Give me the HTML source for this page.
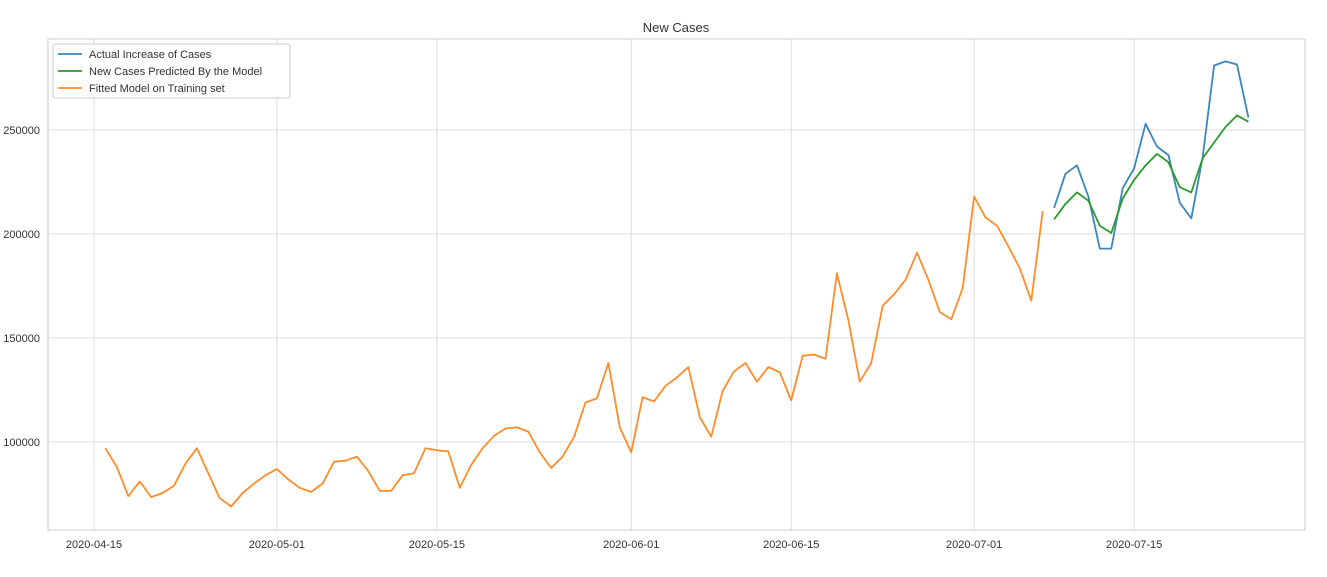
<!DOCTYPE html>
<html><head><meta charset="utf-8"><style>
body{margin:0;background:#fff;font-family:"Liberation Sans",sans-serif;}
svg text{font-family:"Liberation Sans",sans-serif;fill:#333;}
</style></head><body>
<svg id="chart" width="1327" height="572"></svg>
<script>
const xTickLabels=["2020-04-15","2020-05-01","2020-05-15","2020-06-01","2020-06-15","2020-07-01","2020-07-15"];
const xTickDays=[0,16,30,47,61,77,91];
const yTicks=[100000,150000,200000,250000];
const fittedStartDay=1;
const fittedValues=[97,88,74,81,73.5,75.5,79,89.5,97,85,73,69,75.5,80,84,87,82,78,76,80,90.5,91,93,86,76.5,76.5,84,85,97,96,95.5,78,89,97,103,106.5,107,105,95,87.5,93,102.5,119,121,138,107,95,121.5,119.5,127,131,136,112,102.5,124.5,134,138,129,136,133.5,120,141.5,142,140,181,158.5,129,138,165.5,171,178,191,178,162.5,159,174,218,208,204,194,183.5,168,211];
const testStartDay=84;
const actualValues=[212.5,229,233,218,193,193,222,231.5,253,242,238,215,207.5,237,281,283,281.5,256];
const predictedValues=[207,214.5,220,216,204,200.5,217,226,233,238.5,234.5,222.5,220,236.5,244,251.5,257,254];
const svg=document.getElementById('chart');
const NS='http://www.svgns.org';
const L=48,R=1305,T=39,B=530;
const xs=d=>94+d*11.43;
const ys=v=>442-(v-100000)*104/50000;
function el(t,a){const e=document.createElementNS('http://www.w3.org/2000/svg',t);for(const k in a)e.setAttribute(k,a[k]);svg.appendChild(e);return e;}
let e=el('text',{x:676,y:32,'text-anchor':'middle','font-size':13});e.textContent='New Cases';


xTickDays.forEach((d,i)=>{
 let g=el('line',{x1:xs(d),x2:xs(d),y1:T,y2:B,stroke:'#dcdcdc','stroke-width':1});
 
 
 let t=el('text',{x:xs(d),y:548,'text-anchor':'middle','font-size':11});t.textContent=xTickLabels[i];
 
 
});
yTicks.forEach(v=>{
 let g=el('line',{x1:L,x2:R,y1:ys(v),y2:ys(v),stroke:'#dcdcdc','stroke-width':1});
 
 
 let t=el('text',{x:40,y:ys(v)+4,'text-anchor':'end','font-size':11});t.textContent=v;
 
 
});
let fr=el('rect',{x:L,y:T,width:R-L,height:B-T,fill:'none',stroke:'#cccccc'});


function line(vals,start,color,name){
 const p=vals.map((v,i)=>xs(start+i).toFixed(1)+','+ys(v*1000).toFixed(1)).join(' ');
 let l=el('polyline',{points:p,fill:'none',stroke:color,'stroke-width':1.8,'stroke-linejoin':'round'});
 
 
}
line(fittedValues,fittedStartDay,'#ff8c2a','fitted-training-line');
line(actualValues,testStartDay,'#3a87c0','actual-cases-line');
line(predictedValues,testStartDay,'#2a9a2a','predicted-cases-line');
let lg=el('rect',{x:53,y:44,width:237,height:54,fill:'#fff',stroke:'#ccc',rx:3});


[['Actual Increase of Cases','#3a87c0'],['New Cases Predicted By the Model','#2a9a2a'],['Fitted Model on Training set','#ff8c2a']].forEach((it,i)=>{
 const y=54+i*17;
 let s=el('line',{x1:58,x2:82,y1:y,y2:y,stroke:it[1],'stroke-width':1.8});
 
 
 let t=el('text',{x:89,y:y+4,'font-size':11});t.textContent=it[0];
 
 
});
</script>
</body></html>
